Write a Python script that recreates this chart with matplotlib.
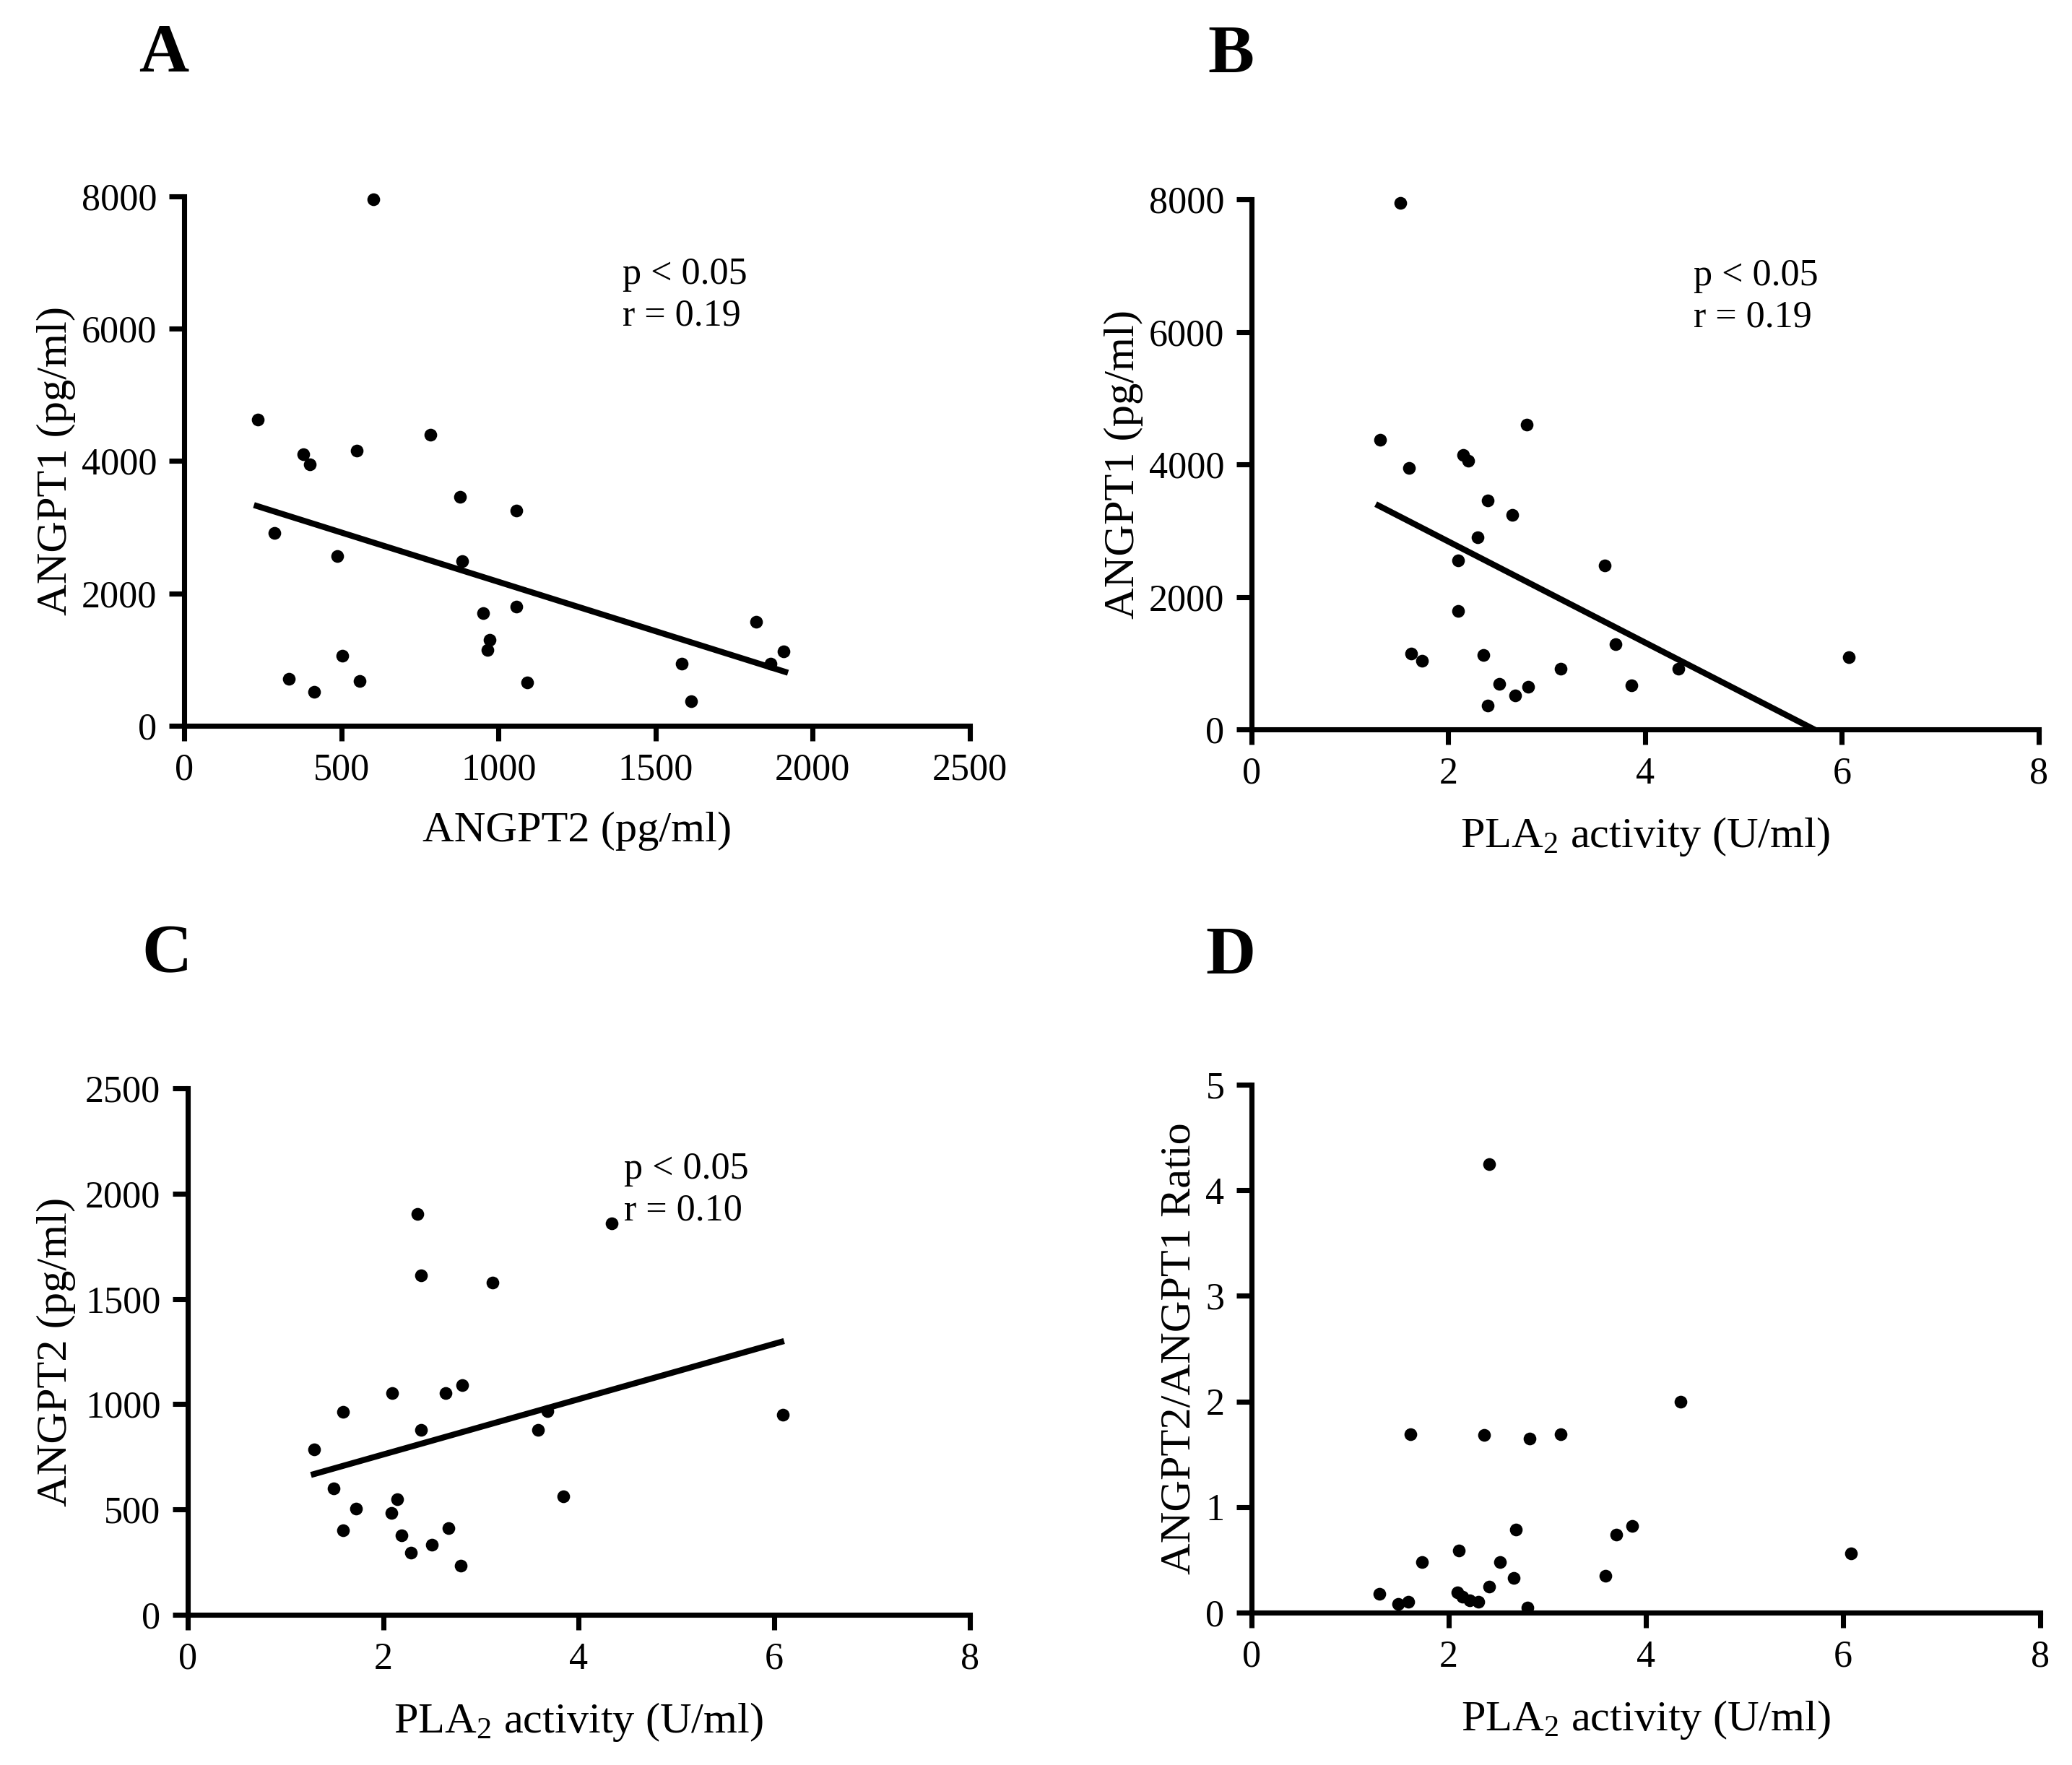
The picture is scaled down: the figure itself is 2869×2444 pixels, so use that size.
import numpy as np
import matplotlib
matplotlib.use("Agg")
import matplotlib.pyplot as plt

plt.rcParams['font.family'] = ['Liberation Serif', 'DejaVu Serif']
plt.rcParams['mathtext.fontset'] = 'custom'
plt.rcParams['mathtext.rm'] = 'Liberation Serif'
plt.rcParams['mathtext.it'] = 'Liberation Serif:italic'

# Panel A: ANGPT2 vs ANGPT1
a_x = [235, 601, 288, 378, 399, 550, 784, 487, 878, 884, 1057, 952, 1057, 971, 966,
       504, 332, 414, 559, 1092, 1584, 1613, 1821, 1866, 1908]
a_y = [4624, 7953, 2918, 4109, 3948, 4157, 4401, 2570, 3461, 2486, 3252, 1699, 1804, 1302, 1142,
       1058, 710, 515, 675, 655, 933, 376, 1567, 940, 1128]
a_fit_x = [231, 1912]
a_fit_y = [3322, 815]

# Panel B: PLA2 activity vs ANGPT1
b_x = [1.51, 1.31, 1.60, 2.15, 2.20, 2.80, 2.40, 2.65, 2.30, 2.10, 3.59, 2.10,
       1.62, 1.73, 2.36, 3.70, 3.14, 4.34, 6.07, 2.52, 2.81, 2.68, 3.86, 2.40]
b_y = [7951, 4376, 3944, 4139, 4056, 4606, 3456, 3240, 2906, 2557, 2474, 1791,
       1143, 1038, 1122, 1289, 920, 920, 1094, 683, 641, 509, 662, 362]
b_fit_x = [1.29, 5.72]
b_fit_y = [3380, 0]

# Panel C: PLA2 activity vs ANGPT2
c_x = [2.35, 4.34, 2.39, 3.12, 2.81, 2.09, 2.64, 1.59, 3.68, 6.09, 2.39, 3.58,
       1.29, 1.49, 3.84, 2.14, 1.72, 2.08, 1.59, 2.67, 2.19, 2.50, 2.28, 2.79]
c_y = [1903, 1859, 1612, 1578, 1091, 1053, 1053, 964, 968, 951, 877, 879,
       784, 601, 561, 550, 505, 485, 401, 412, 378, 334, 294, 234]
c_fit_x = [1.29, 6.07]
c_fit_y = [668, 1296]

# Panel D: PLA2 activity vs ANGPT2/ANGPT1 ratio
d_x = [2.41, 4.35, 1.61, 2.36, 2.82, 3.14, 2.68, 3.86, 3.70, 6.08, 2.10, 1.73,
       2.52, 3.59, 2.66, 2.41, 1.30, 2.09, 2.14, 2.21, 2.30, 1.49, 1.59, 2.80]
d_y = [4.25, 2.00, 1.69, 1.68, 1.65, 1.69, 0.79, 0.82, 0.74, 0.56, 0.59, 0.48,
       0.48, 0.35, 0.33, 0.25, 0.18, 0.19, 0.15, 0.12, 0.10, 0.08, 0.10, 0.05]

pla_label = r'PLA$_2$ activity (U/ml)'

fig = plt.figure(figsize=(2869 / 300, 2444 / 300), dpi=300)


def style_axes(ax, xlim, ylim, xticks, yticks):
    ax.set_xlim(*xlim)
    ax.set_ylim(*ylim)
    ax.set_xticks(xticks)
    ax.set_yticks(yticks)
    for s in ['top', 'right']:
        ax.spines[s].set_visible(False)
    for s in ['left', 'bottom']:
        ax.spines[s].set_linewidth(1.7)
    ax.tick_params(direction='out', length=5, width=1.7, labelsize=12.5, pad=4, colors='black')


def panel(pos, xs, ys, fit, xlim, ylim, xticks, yticks, xlabel, ylabel, letter, note, note_xy,
          ypad, letter_dy):
    ax = fig.add_axes(pos)
    ax.scatter(xs, ys, s=18, color='black', zorder=3, clip_on=False, linewidths=0)
    if fit is not None:
        ax.plot(fit[0], fit[1], color='black', lw=2.0, zorder=2)
    style_axes(ax, xlim, ylim, xticks, yticks)
    ax.set_xlabel(xlabel, fontsize=14.5, labelpad=8)
    ax.set_ylabel(ylabel, fontsize=14.5, labelpad=ypad)
    if note is not None:
        ax.text(note_xy[0], note_xy[1], note, fontsize=12.5, ha='left', va='center',
                linespacing=1.25)
    fig.text(pos[0] - 0.010, pos[1] + pos[3] + letter_dy, letter, fontsize=23,
             fontweight='bold', ha='center', va='center')
    return ax


panel([0.0889, 0.5888, 0.3792, 0.2999], a_x, a_y, (a_fit_x, a_fit_y),
      (0, 2500), (0, 8000), [0, 500, 1000, 1500, 2000, 2500], [0, 2000, 4000, 6000, 8000],
      'ANGPT2 (pg/ml)', 'ANGPT1 (pg/ml)', 'A', 'p < 0.05\nr = 0.19', (1395, 6510), 2, 0.080)

panel([0.6040, 0.5867, 0.3799, 0.3003], b_x, b_y, (b_fit_x, b_fit_y),
      (0, 8), (0, 8000), [0, 2, 4, 6, 8], [0, 2000, 4000, 6000, 8000],
      pla_label, 'ANGPT1 (pg/ml)', 'B', 'p < 0.05\nr = 0.19', (4.49, 6530), 2, 0.081)

panel([0.0906, 0.0851, 0.3775, 0.2983], c_x, c_y, (c_fit_x, c_fit_y),
      (0, 8), (0, 2500), [0, 2, 4, 6, 8], [0, 500, 1000, 1500, 2000, 2500],
      pla_label, 'ANGPT2 (pg/ml)', 'C', 'p < 0.05\nr = 0.10', (4.46, 2016), 3, 0.075)

panel([0.6040, 0.0863, 0.3806, 0.2991], d_x, d_y, None,
      (0, 8), (0, 5), [0, 2, 4, 6, 8], [0, 1, 2, 3, 4, 5],
      pla_label, 'ANGPT2/ANGPT1 Ratio', 'D', None, None, 2, 0.072)

fig.savefig('out.png', dpi=300, facecolor='white')
